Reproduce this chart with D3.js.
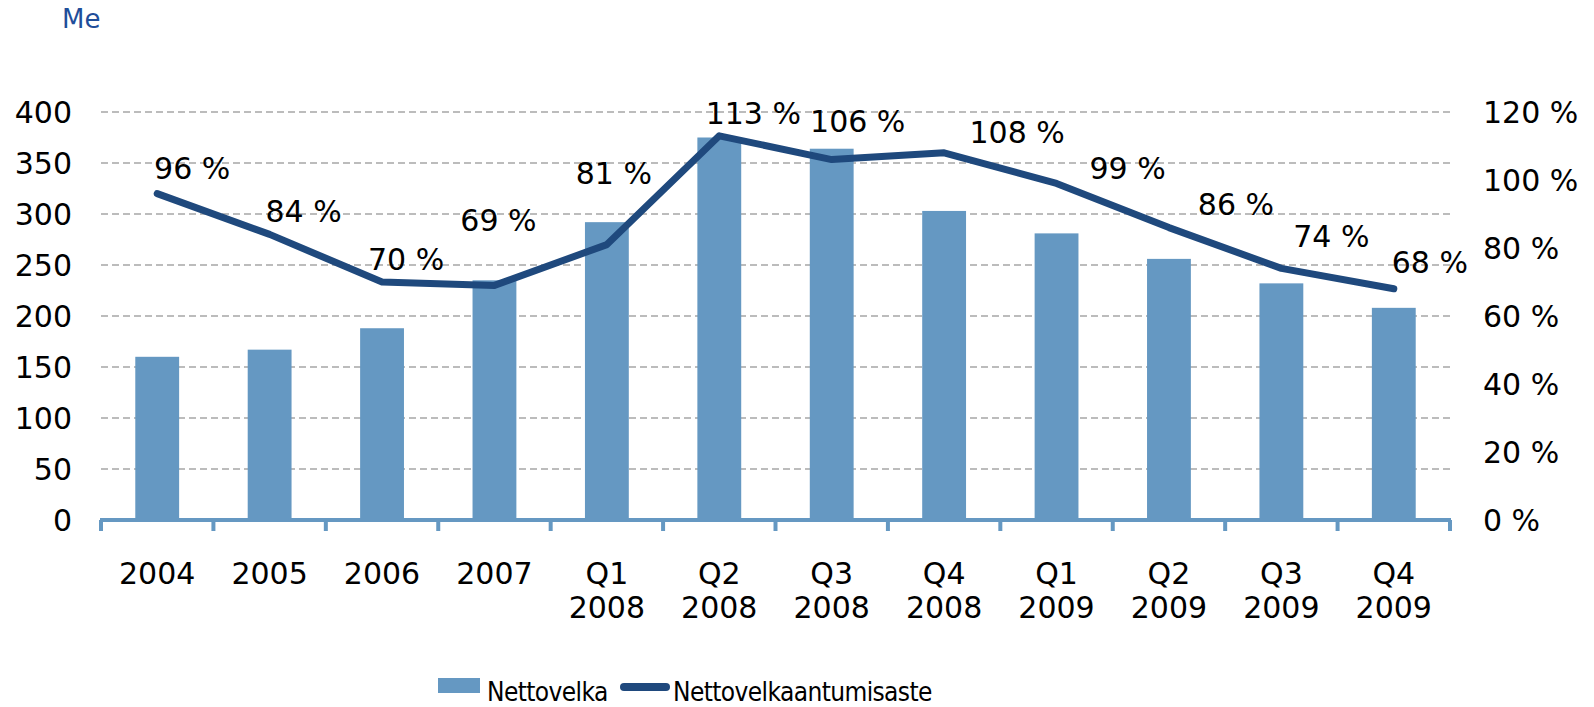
<!DOCTYPE html>
<html>
<head>
<meta charset="utf-8">
<script src="https://cdn.jsdelivr.net/npm/d3@7"></script>
<style>
  body { margin: 0; background: #fff; }
  text { font-family: "DejaVu Sans", Verdana, sans-serif; fill: #000; }
  .legend-text { font-family: "DejaVu Sans Condensed", "DejaVu Sans", sans-serif; font-stretch: condensed; letter-spacing: -0.6px; }
</style>
</head>
<body>
<svg id="chart" width="1594" height="707"></svg>
<script>
// data
var categories = ["2004", "2005", "2006", "2007", "Q1 2008", "Q2 2008", "Q3 2008", "Q4 2008", "Q1 2009", "Q2 2009", "Q3 2009", "Q4 2009"];
var nettovelka = [160, 167, 188, 235, 292, 375, 364, 303, 281, 256, 232, 208];
var asteet = [96, 84, 70, 69, 81, 113, 106, 108, 99, 86, 74, 68];
var leftTicks = [0, 50, 100, 150, 200, 250, 300, 350, 400];
var rightTicks = [0, 20, 40, 60, 80, 100, 120];

// where excel put each data label, relative to its point (label centre)
var labelOffsets = [[35, -26], [34, -23], [24, -23], [4, -65], [7, -72], [34, -23],
                    [26, -39], [73, -21], [71, -15], [67, -24], [50, -32], [36, -27]];

var svg = d3.select("#chart");
var plotLeft = 101, plotRight = 1450, plotTop = 112, plotBottom = 520;
var fs = "30px";

var x = d3.scaleBand()
    .domain(categories)
    .range([plotLeft, plotRight])
    .paddingInner(0)
    .paddingOuter(0);

var yL = d3.scaleLinear().domain([0, 400]).range([plotBottom, plotTop]);
var yR = d3.scaleLinear().domain([0, 120]).range([plotBottom, plotTop]);

function cx(i) { return x(categories[i]) + x.bandwidth() / 2; }

// gridlines
svg.append("g")
    .selectAll("line")
    .data(leftTicks.slice(1))
    .enter()
    .append("line")
    .attr("x1", plotLeft)
    .attr("x2", plotRight)
    .attr("y1", function(d) { return yL(d); })
    .attr("y2", function(d) { return yL(d); })
    .attr("stroke", "#a6a6a6")
    .attr("stroke-width", 1.5)
    .attr("stroke-dasharray", "7,4");

// bars
var barW = x.bandwidth() * 0.39;
svg.append("g")
    .selectAll("rect")
    .data(nettovelka)
    .enter()
    .append("rect")
    .attr("x", function(d, i) { return cx(i) - barW / 2; })
    .attr("y", function(d) { return yL(d); })
    .attr("width", barW)
    .attr("height", function(d) { return plotBottom - yL(d); })
    .attr("fill", "#6598c2");

// x axis
var xAxis = svg.append("g").attr("transform", "translate(0," + plotBottom + ")");
xAxis.append("line")
    .attr("x1", plotLeft - 1)
    .attr("x2", plotRight + 1)
    .attr("stroke", "#6598c2")
    .attr("stroke-width", 4);
var bounds = categories.map(function(c) { return x(c); }).concat([plotRight]);
xAxis.selectAll("line.tick")
    .data(bounds)
    .enter()
    .append("line")
    .attr("class", "tick")
    .attr("x1", function(d) { return d; })
    .attr("x2", function(d) { return d; })
    .attr("y1", 0)
    .attr("y2", 11)
    .attr("stroke", "#6598c2")
    .attr("stroke-width", 4);

var xl = xAxis.selectAll("text.cat")
    .data(categories)
    .enter()
    .append("text")
    .attr("class", "cat")
    .attr("text-anchor", "middle")
    .style("font-size", fs);
xl.each(function(d, i) {
    var parts = d.split(" ");
    var t = d3.select(this);
    parts.forEach(function(p, k) {
        t.append("tspan")
            .attr("x", cx(i))
            .attr("y", 64 + k * 34)
            .text(p);
    });
});

// left axis labels
svg.append("g")
    .selectAll("text")
    .data(leftTicks)
    .enter()
    .append("text")
    .attr("x", 72)
    .attr("y", function(d) { return yL(d) + 11; })
    .attr("text-anchor", "end")
    .style("font-size", fs)
    .text(function(d) { return d; });

// right axis labels
svg.append("g")
    .selectAll("text")
    .data(rightTicks)
    .enter()
    .append("text")
    .attr("x", 1483)
    .attr("y", function(d) { return yR(d) + 11; })
    .attr("text-anchor", "start")
    .style("font-size", fs)
    .text(function(d) { return d + " %"; });

// line
var line = d3.line()
    .x(function(d, i) { return cx(i); })
    .y(function(d) { return yR(d); });

svg.append("path")
    .datum(asteet)
    .attr("d", line)
    .attr("fill", "none")
    .attr("stroke", "#1f497d")
    .attr("stroke-width", 7)
    .attr("stroke-linecap", "round")
    .attr("stroke-linejoin", "round");

// data labels
svg.append("g")
    .selectAll("text")
    .data(asteet)
    .enter()
    .append("text")
    .attr("x", function(d, i) { return cx(i) + labelOffsets[i][0]; })
    .attr("y", function(d, i) { return yR(d) + labelOffsets[i][1] + 11; })
    .attr("text-anchor", "middle")
    .style("font-size", fs)
    .text(function(d) { return d + " %"; });

// unit
svg.append("text")
    .attr("x", 62)
    .attr("y", 28)
    .style("font-size", "26px")
    .style("fill", "#1f4e9a")
    .text("Me");

// legend
var legend = svg.append("g");
legend.append("rect")
    .attr("x", 438)
    .attr("y", 678)
    .attr("width", 42)
    .attr("height", 15)
    .attr("fill", "#6598c2");
legend.append("text")
    .attr("class", "legend-text")
    .attr("x", 487)
    .attr("y", 701)
    .style("font-size", "26px")
    .text("Nettovelka");
legend.append("line")
    .attr("x1", 624)
    .attr("x2", 666)
    .attr("y1", 687)
    .attr("y2", 687)
    .attr("stroke", "#1f497d")
    .attr("stroke-width", 8)
    .attr("stroke-linecap", "round");
legend.append("text")
    .attr("class", "legend-text")
    .attr("x", 673)
    .attr("y", 701)
    .style("font-size", "26px")
    .text("Nettovelkaantumisaste");
</script>
</body>
</html>
